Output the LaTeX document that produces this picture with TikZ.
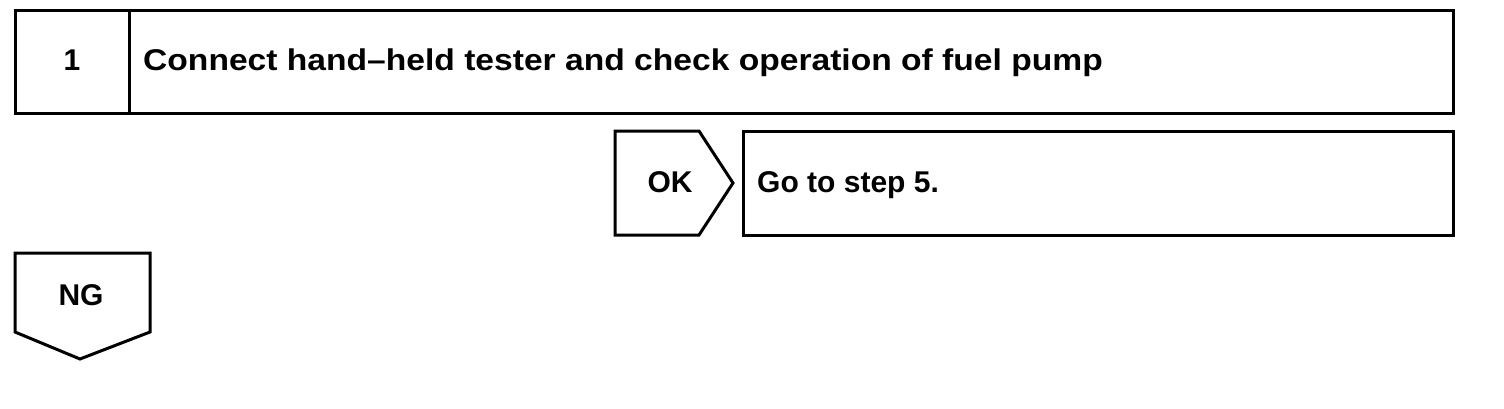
\documentclass[tikz,border=0pt]{standalone}
\usepackage{fontspec}
\setmainfont{Liberation Sans}
\newfontfamily\titlefont[FakeStretch=1.12]{Liberation Sans}
\begin{document}
\begin{tikzpicture}[x=1pt,y=-1pt,
  frame/.style={draw=black,line width=3pt,line join=miter},
  lbl/.style={font=\fontsize{30}{33}\selectfont\bfseries,inner sep=0pt,text=black},
  ttl/.style={font=\titlefont\fontsize{30}{33}\selectfont\bfseries,inner sep=0pt,text=black}]
\useasboundingbox (0,0) rectangle (1504,408);
% step 1 box
\draw[frame] (15,10) rectangle (1453,113);
\draw[frame] (129,10) -- (129,113);
\node[lbl,anchor=base] (num) at (72,70) {1};
\node[ttl,anchor=base west] (title) at (143,70) {Connect hand–held tester and check operation of fuel pump};
% OK branch
\draw[frame] (615,131) -- (699,131) -- (733,183) -- (699,235) -- (615,235) -- cycle;
\node[lbl,anchor=base] (ok) at (670,192) {OK};
\draw[frame] (743,131) rectangle (1453,235);
\node[lbl,anchor=base west] (goto) at (757,192) {Go to step 5.};
% NG branch
\draw[frame] (15,253) -- (150,253) -- (150,332) -- (80,359) -- (15,332) -- cycle;
\node[lbl,anchor=base] (ng) at (81,305) {NG};
\end{tikzpicture}
\end{document}
